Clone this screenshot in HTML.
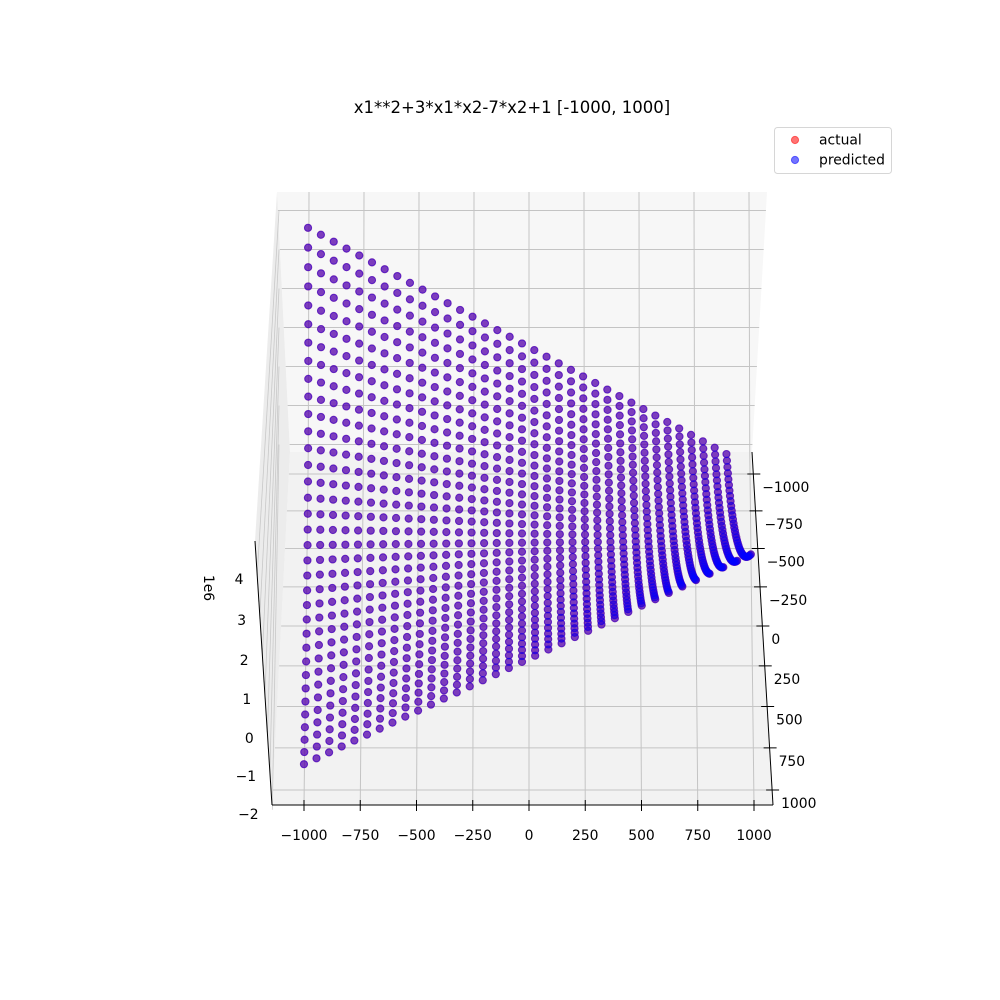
<!DOCTYPE html>
<html><head><meta charset="utf-8"><style>
html,body{margin:0;padding:0;background:#fff;}
svg{display:block;font-family:"DejaVu Sans","Liberation Sans",sans-serif;}
</style></head><body>
<svg id="chart" width="1000" height="1000" viewBox="0 0 1000 1000" xmlns="http://www.w3.org/2000/svg">
<rect width="1000" height="1000" fill="#fff"/>
<g id="panes"></g>
<g id="grid"></g>
<g id="axes"></g>
<g id="points"></g>
<text x="512" y="113" text-anchor="middle" font-size="16.5" fill="#000">x1**2+3*x1*x2-7*x2+1 [-1000, 1000]</text>
<g>
  <rect x="774.5" y="127.5" width="117" height="46" rx="3" fill="#fff" fill-opacity="0.8" stroke="#d6d6d6"/>
  <g>
    <circle cx="795" cy="140" r="3.6" fill="#ff0000" fill-opacity="0.55" stroke="#ff0000" stroke-opacity="0.55"/>
    <text x="819" y="144.5" font-size="13.9">actual</text>
  </g>
  <g>
    <circle cx="795" cy="160" r="3.6" fill="#0000ff" fill-opacity="0.55" stroke="#0000ff" stroke-opacity="0.55"/>
    <text x="819" y="164.5" font-size="13.9">predicted</text>
  </g>
</g>
</svg>
<script>
// ---- data ----
const x1Values = [-1000,-941.18,-882.35,-823.53,-764.71,-705.88,-647.06,-588.24,-529.41,-470.59,-411.76,-352.94,-294.12,-235.29,-176.47,-117.65,-58.82,0,58.82,117.65,176.47,235.29,294.12,352.94,411.76,470.59,529.41,588.24,647.06,705.88,764.71,823.53,882.35,941.18,1000];
const x2Values = [-1000,-941.18,-882.35,-823.53,-764.71,-705.88,-647.06,-588.24,-529.41,-470.59,-411.76,-352.94,-294.12,-235.29,-176.47,-117.65,-58.82,0,58.82,117.65,176.47,235.29,294.12,352.94,411.76,470.59,529.41,588.24,647.06,705.88,764.71,823.53,882.35,941.18,1000];
// coefficients for terms [x1^2, x1*x2, x2, 1]
const actualCoef = [1, 3, -7, 1];
const predictedCoef = [1, 3, -7, 1];
const xTickLabels = [-1000,-750,-500,-250,0,250,500,750,1000];
const yTickLabels = [-1000,-750,-500,-250,0,250,500,750,1000];
const zTickLabels = [-2,-1,0,1,2,3,4];

const NS = "http://www.w3.org/2000/svg";
function mk(tag, attrs, parent){
  const e = document.createElementNS(NS, tag);
  for (const k in attrs) e.setAttribute(k, attrs[k]);
  parent.appendChild(e);
  return e;
}
// ---- projection (x2 horizontal, x1 depth, z vertical) ----
const P_U = 0.0326, P_W = 0.00775;
function depth(x1, z){ return P_U*x1/1000 + P_W*z/1e6; }
function project(x1, x2, z){
  const u = x1/1000, v = x2/1000, w = z/1e6;
  const s = 1/(1 - P_U*u - P_W*w);
  return [522 + 214.3*v*s, 533.5 + 3.7*v + (159*u - 35.8*w)*s];
}
function evalZ(c, a, b){ return c[0]*a*a + c[1]*a*b + c[2]*b + c[3]; }

// ---- axis mapping functions for decorations ----
function xAxisX(val){ return 529 + 0.225*val; }
function xGridTop(val){ return 529 + 0.22*val; }
function yAxisY(val){ const t = val/1000; return 626 + 158*t + 6*t*t; }
function rightEdgeX(y){ return 752 + (y-452)*21/353; }
function leftFloorX(y){ return 290 - (y-452)*18/353; }
function zLabelY(val){ return 738 - 38.5*val - 0.3*val*val; }
function zAxisX(y){ return 255 + (y-541)*17/264; }
function zGridY(val){ return 366.5 - 39*val; }

const panes = document.getElementById('panes');
const grid = document.getElementById('grid');
const axes = document.getElementById('axes');

let e;
e = mk('polygon', {points:"277,192 767,192 752,452 290,452", fill:"#f7f7f7"}, panes);


e = mk('polygon', {points:"290,452 752,452 773,805 272,805", fill:"#f2f2f2"}, panes);


e = mk('polygon', {points:"277,192 290,452 272,805 255,541", fill:"#ececec"}, panes);



zTickLabels.forEach(function(t){
  const l = mk('line', {x1:279, y1:zGridY(t), x2:zAxisX(zLabelY(t)-4), y2:zLabelY(t)-4, stroke:"#c8c8c8", "stroke-width":0.8}, grid);
  
  
});
zTickLabels.forEach(function(t){
  const y = zGridY(t);
  const l = mk('line', {x1:277 + (y-192)*13/260, y1:y, x2:767 - (y-192)*15/260, y2:y, stroke:"#c4c4c4", "stroke-width":1}, grid);
  
  
});
yTickLabels.forEach(function(t){
  const y = yAxisY(t);
  const l = mk('line', {x1:leftFloorX(y), y1:y, x2:rightEdgeX(y), y2:y, stroke:"#c4c4c4", "stroke-width":1}, grid);
  
  
});
xTickLabels.forEach(function(t){
  const l = mk('polyline', {points: xGridTop(t)+",192 "+(xGridTop(t)+(xAxisX(t)-xGridTop(t))*0.15)+",452 "+xAxisX(t)+",805", fill:"none", stroke:"#c4c4c4", "stroke-width":1}, grid);
  
  
});

e = mk('line', {x1:272, y1:805, x2:773, y2:805, stroke:"#000", "stroke-width":1}, axes);


e = mk('line', {x1:752, y1:452, x2:773, y2:805, stroke:"#000", "stroke-width":1}, axes);


e = mk('line', {x1:255, y1:541, x2:272, y2:805, stroke:"#000", "stroke-width":1}, axes);



function fmt(v){ return String(v).replace('-', '\u2212'); }
xTickLabels.forEach(function(t){
  const x = xAxisX(t);
  const tk = mk('line', {x1:x, y1:800, x2:x, y2:811, stroke:"#000", "stroke-width":1}, axes);
  
  
  const tx = mk('text', {x:x, y:840, "font-size":13.9, "text-anchor":"middle"}, axes);
  tx.textContent = fmt(t);
  
  
});
yTickLabels.forEach(function(t){
  const y = yAxisY(t);
  const x = rightEdgeX(y);
  const tk = mk('line', {x1:x-6, y1:y, x2:x+7, y2:y, stroke:"#000", "stroke-width":1}, axes);
  
  
  const tx = mk('text', {x:x+9, y:y+18, "font-size":13.9}, axes);
  tx.textContent = fmt(t);
  
  
});
zTickLabels.forEach(function(t){
  const y = zLabelY(t);
  const tx = mk('text', {x:zAxisX(y)-14, y:y+5, "font-size":13.9, "text-anchor":"end"}, axes);
  tx.textContent = fmt(t);
  
  
});
e = mk('text', {x:0, y:0, "font-size":13.9, "text-anchor":"middle", transform:"translate(204,588) rotate(90)"}, axes);
e.textContent = "1e6";



const pts = document.getElementById('points');
function drawSeries(coef, color, name){
  const list = [];
  x1Values.forEach(function(a){
    x2Values.forEach(function(b){
      const z = evalZ(coef, a, b);
      list.push([a, b, z, depth(a, z)]);
    });
  });
  list.sort(function(p, q){ return p[3] - q[3]; });
  const g = mk('g', {}, pts);
  
  
  list.forEach(function(p){
    const s = project(p[0], p[1], p[2]);
    const c = mk('circle', {cx:s[0].toFixed(2), cy:s[1].toFixed(2), r:3.6, fill:color, "fill-opacity":0.5, stroke:color, "stroke-opacity":0.5, "stroke-width":1}, g);
    
    
  });
}
drawSeries(actualCoef, "#ff0000", "actual");
drawSeries(predictedCoef, "#0000ff", "predicted");
</script>
</body></html>
